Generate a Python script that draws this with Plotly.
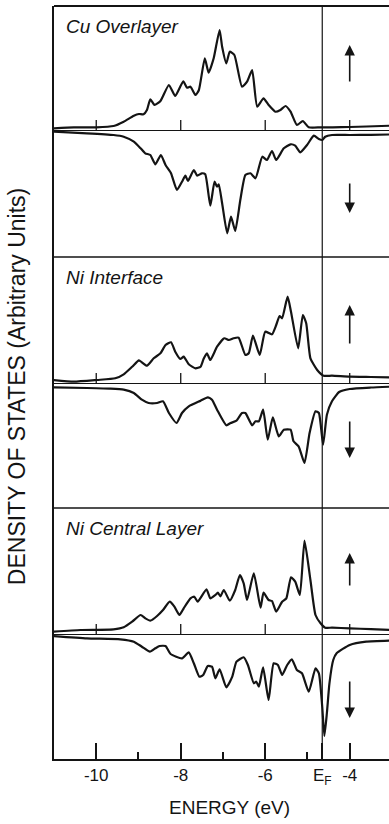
import plotly.graph_objects as go
from plotly.subplots import make_subplots

# ---------------- data (energy in eV, DOS in arbitrary units) ----------------
E_FERMI = -4.65

cu_up_e = [-11.01, -10.53, -10.00, -9.59, -9.35, -9.11, -8.99, -8.88, -8.80, -8.72, -8.62, -8.48,
           -8.28, -8.13, -7.94, -7.85, -7.77, -7.65, -7.57, -7.43, -7.34, -7.22, -7.08, -7.02,
           -6.92, -6.84, -6.73, -6.55, -6.43, -6.31, -6.19, -6.04, -5.92, -5.76, -5.64, -5.52,
           -5.40, -5.25, -5.11, -4.97, -4.69, -4.40, -4.00, -3.60, -3.05]
cu_up_v = [0.17, 0.27, 0.27, 0.40, 0.83, 1.43, 1.60, 1.57, 2.00, 3.07, 2.50, 2.90,
           4.50, 3.40, 4.87, 4.23, 4.33, 3.50, 4.00, 7.17, 5.73, 7.17, 10.00, 8.33,
           6.67, 7.83, 7.50, 4.33, 4.83, 6.00, 2.33, 3.17, 2.50, 1.83, 2.00, 2.40,
           1.83, 0.50, 0.90, 0.27, 0.27, 0.27, 0.30, 0.35, 0.43]

cu_dn_e = [-11.01, -10.22, -9.59, -9.35, -9.11, -8.95, -8.84, -8.72, -8.60, -8.47, -8.36, -8.23,
           -8.09, -7.97, -7.89, -7.83, -7.69, -7.61, -7.50, -7.42, -7.30, -7.20, -7.14, -7.10,
           -7.02, -6.90, -6.81, -6.71, -6.59, -6.47, -6.35, -6.23, -6.07, -5.96, -5.84, -5.74,
           -5.56, -5.40, -5.29, -5.17, -5.01, -4.85, -4.73, -4.65, -4.58, -4.42, -4.00, -3.50, -3.05]
cu_dn_v = [-0.17, -0.33, -0.50, -0.67, -1.17, -1.83, -2.33, -2.50, -3.43, -2.50, -3.50, -4.33,
           -6.00, -5.17, -4.57, -5.10, -4.00, -4.57, -4.33, -4.43, -7.57, -5.17, -5.67, -5.43,
           -7.33, -10.33, -8.67, -10.10, -7.00, -4.50, -4.33, -4.83, -2.67, -3.00, -2.10, -3.00,
           -1.83, -1.43, -1.57, -2.23, -1.50, -0.57, -0.90, -1.00, -0.67, -0.50, -0.50, -0.48, -0.45]

ni_if_up_e = [-11.01, -10.53, -9.98, -9.55, -9.35, -9.15, -8.99, -8.92, -8.80, -8.64, -8.48, -8.36,
              -8.23, -8.13, -8.01, -7.93, -7.81, -7.65, -7.53, -7.46, -7.38, -7.30, -7.14, -6.97,
              -6.86, -6.75, -6.63, -6.47, -6.39, -6.29, -6.13, -6.00, -5.84, -5.74, -5.66, -5.60,
              -5.47, -5.39, -5.22, -5.11, -5.03, -4.93, -4.77, -4.62, -4.42, -4.00, -3.50, -3.05]
ni_if_up_v = [0.30, 0.13, 0.30, 0.47, 0.87, 1.63, 2.27, 2.07, 1.73, 2.47, 2.97, 3.80,
              4.07, 3.13, 2.40, 2.63, 1.87, 1.47, 1.63, 2.40, 2.97, 2.30, 3.63, 4.47,
              4.30, 4.47, 4.53, 2.80, 2.97, 4.73, 2.80, 5.13, 4.87, 5.80, 6.70, 6.47,
              8.63, 7.13, 3.47, 6.80, 5.97, 2.47, 1.30, 0.73, 0.73, 0.63, 0.60, 0.57]

ni_if_dn_e = [-11.01, -10.22, -9.66, -9.35, -9.11, -8.92, -8.76, -8.56, -8.42, -8.28, -8.10, -7.97,
              -7.81, -7.53, -7.36, -7.26, -7.14, -6.92, -6.82, -6.68, -6.55, -6.47, -6.31, -6.23,
              -6.15, -6.05, -5.94, -5.82, -5.68, -5.56, -5.40, -5.33, -5.21, -5.07, -4.95, -4.81,
              -4.73, -4.63, -4.54, -4.42, -4.25, -4.00, -3.50, -3.05]
ni_if_dn_v = [-0.43, -0.50, -0.57, -0.67, -1.00, -1.67, -2.00, -2.00, -1.83, -3.00, -4.00, -3.00,
              -2.33, -1.77, -1.43, -1.67, -2.67, -4.23, -4.00, -3.77, -3.00, -3.00, -4.23, -3.83,
              -3.83, -2.67, -5.67, -3.43, -5.33, -4.67, -4.67, -5.83, -6.33, -8.00, -5.00, -2.83,
              -3.00, -6.17, -3.17, -1.83, -0.90, -0.60, -0.45, -0.37]

ni_c_up_e = [-11.01, -10.37, -9.59, -9.35, -9.15, -8.95, -8.84, -8.72, -8.56, -8.42, -8.26, -8.15,
             -8.03, -7.93, -7.77, -7.68, -7.60, -7.39, -7.30, -7.18, -7.12, -7.06, -6.98, -6.84,
             -6.71, -6.60, -6.51, -6.43, -6.27, -6.11, -6.04, -5.92, -5.84, -5.74, -5.60, -5.50,
             -5.39, -5.29, -5.18, -5.07, -4.93, -4.81, -4.69, -4.58, -4.42, -4.00, -3.50, -3.05]
ni_c_up_v = [0.23, 0.40, 0.47, 0.67, 1.23, 1.90, 1.57, 1.33, 1.80, 2.40, 3.23, 2.73,
             1.90, 2.57, 3.57, 3.73, 3.23, 4.47, 3.57, 3.90, 4.13, 3.77, 4.40, 3.33,
             4.40, 5.90, 5.07, 3.40, 6.07, 2.63, 4.13, 3.40, 3.30, 2.23, 3.23, 3.57,
             5.67, 5.23, 3.90, 9.33, 5.40, 1.90, 1.07, 0.63, 0.63, 0.57, 0.48, 0.40]

ni_c_dn_e = [-11.01, -10.22, -9.43, -9.11, -8.92, -8.73, -8.60, -8.50, -8.36, -8.24, -7.97, -7.81,
             -7.69, -7.56, -7.47, -7.36, -7.26, -7.18, -7.08, -6.92, -6.78, -6.68, -6.51, -6.41,
             -6.27, -6.21, -6.15, -6.05, -5.92, -5.80, -5.70, -5.60, -5.48, -5.37, -5.25, -5.13,
             -4.97, -4.81, -4.73, -4.65, -4.60, -4.54, -4.48, -4.39, -4.31, -4.00, -3.61, -3.05]
ni_c_dn_v = [-0.20, -0.43, -0.53, -0.77, -1.27, -1.77, -1.43, -1.20, -1.20, -2.00, -2.43, -1.83,
             -2.93, -4.27, -4.10, -3.20, -3.27, -4.43, -3.53, -5.33, -4.27, -2.77, -2.33, -3.10,
             -4.93, -4.77, -5.27, -3.33, -6.60, -2.93, -3.10, -4.10, -3.10, -2.53, -3.60, -3.93,
             -5.77, -3.43, -3.93, -7.30, -10.20, -7.90, -4.93, -2.60, -1.93, -1.10, -0.77, -0.67]

panel_labels = ["Cu Overlayer", "Ni Interface", "Ni Central Layer"]
tick_vals = [-10, -8, -6, E_FERMI, -4]
tick_text = ["-10", "-8", "-6", "E<sub>F</sub>", "-4"]
minor_vals = [-9, -7, -5]
inner_ticks = [-10, -8, -6, -4]

series = [
    (cu_up_e, cu_up_v, cu_dn_e, cu_dn_v),
    (ni_if_up_e, ni_if_up_v, ni_if_dn_e, ni_if_dn_v),
    (ni_c_up_e, ni_c_up_v, ni_c_dn_e, ni_c_dn_v),
]
y_ranges = [[-12.7, 12.4], [-12.5, 12.6], [-12.5, 12.6]]
# arrow (tail, tip) positions in each panel: up and down
arrows = [((4.7, 8.5), (-5.2, -8.3)),
          ((3.8, 7.8), (-3.7, -7.5)),
          ((4.7, 8.1), (-4.6, -8.4))]
ARROW_X = -4.0

# ---------------- figure ----------------
INK = "#141414"
FONT = "Liberation Sans"

fig = make_subplots(rows=3, cols=1, shared_xaxes=True, vertical_spacing=0)

for i, (ue, uv, de, dv) in enumerate(series):
    r = i + 1
    for xs, ys in ((ue, uv), (de, dv)):
        fig.add_trace(go.Scatter(x=xs, y=ys, mode="lines",
                                 line=dict(color=INK, width=2.2, shape="spline", smoothing=0.5),
                                 showlegend=False, hoverinfo="skip"), row=r, col=1)
    yref = "y" if r == 1 else f"y{r}"
    fig.update_yaxes(range=y_ranges[i], row=r, col=1)
    # small ticks on the zero line
    for t in inner_ticks:
        fig.add_shape(type="line", xref="x", yref=yref, x0=t, x1=t, y0=0, y1=1.0,
                      line=dict(color=INK, width=1.3))
    # panel label
    fig.add_annotation(x=0.03, xref="paper", y=y_ranges[i][1] - 2.0, yref=yref,
                       text=f"<i>{panel_labels[i]}</i>", showarrow=False,
                       xanchor="left", yanchor="middle",
                       font=dict(family=FONT, size=19, color=INK))
    # spin arrows
    (ut, uh), (dt, dh) = arrows[i]
    for tail, head in ((ut, uh), (dt, dh)):
        fig.add_annotation(x=ARROW_X, y=head, ax=ARROW_X, ay=tail, xref="x", yref=yref,
                           axref="x", ayref=yref, text="", showarrow=True,
                           arrowhead=2, arrowsize=1.3, arrowwidth=1.6, arrowcolor=INK,
                           standoff=0, startstandoff=0)

fig.update_yaxes(showticklabels=False, showgrid=False, ticks="",
                 zeroline=True, zerolinecolor=INK, zerolinewidth=1.4,
                 showline=True, linecolor=INK, linewidth=2)
fig.update_xaxes(range=[-11.0, -3.07], showgrid=False, zeroline=False)
fig.update_xaxes(showline=True, linecolor=INK, linewidth=2, mirror=False,
                 ticks="inside", ticklen=16, tickwidth=1.5, tickcolor=INK,
                 tickvals=tick_vals, ticktext=tick_text,
                 tickfont=dict(family=FONT, size=17, color=INK),
                 minor=dict(tickvals=minor_vals, ticks="inside", ticklen=7,
                            tickwidth=1.5, tickcolor=INK),
                 row=3, col=1)

# frame: top border and panel separators, Fermi level
for yy in (1.0, 2 / 3, 1 / 3):
    fig.add_shape(type="line", xref="paper", yref="paper", x0=0, x1=1, y0=yy, y1=yy,
                  line=dict(color=INK, width=1.6 if yy < 1 else 2))
fig.add_shape(type="line", xref="x", yref="paper", x0=E_FERMI, x1=E_FERMI, y0=0, y1=1,
              line=dict(color=INK, width=1.2))

# axis titles
fig.add_annotation(x=0.525, y=-0.065, xref="paper", yref="paper", text="ENERGY (eV)",
                   showarrow=False, xanchor="center", yanchor="middle",
                   font=dict(family=FONT, size=19, color=INK))
fig.add_annotation(x=-0.11, y=0.494, xref="paper", yref="paper",
                   text="DENSITY OF STATES (Arbitrary Units)", textangle=-90,
                   showarrow=False, xanchor="center", yanchor="middle",
                   font=dict(family=FONT, size=23, color=INK))

fig.update_layout(width=389, height=824, margin=dict(l=54, r=0, t=6, b=65),
                  paper_bgcolor="white", plot_bgcolor="white")

fig.write_html("out.html", config={"displayModeBar": False},
               post_script="document.body.style.margin='0';document.body.style.padding='0';")
